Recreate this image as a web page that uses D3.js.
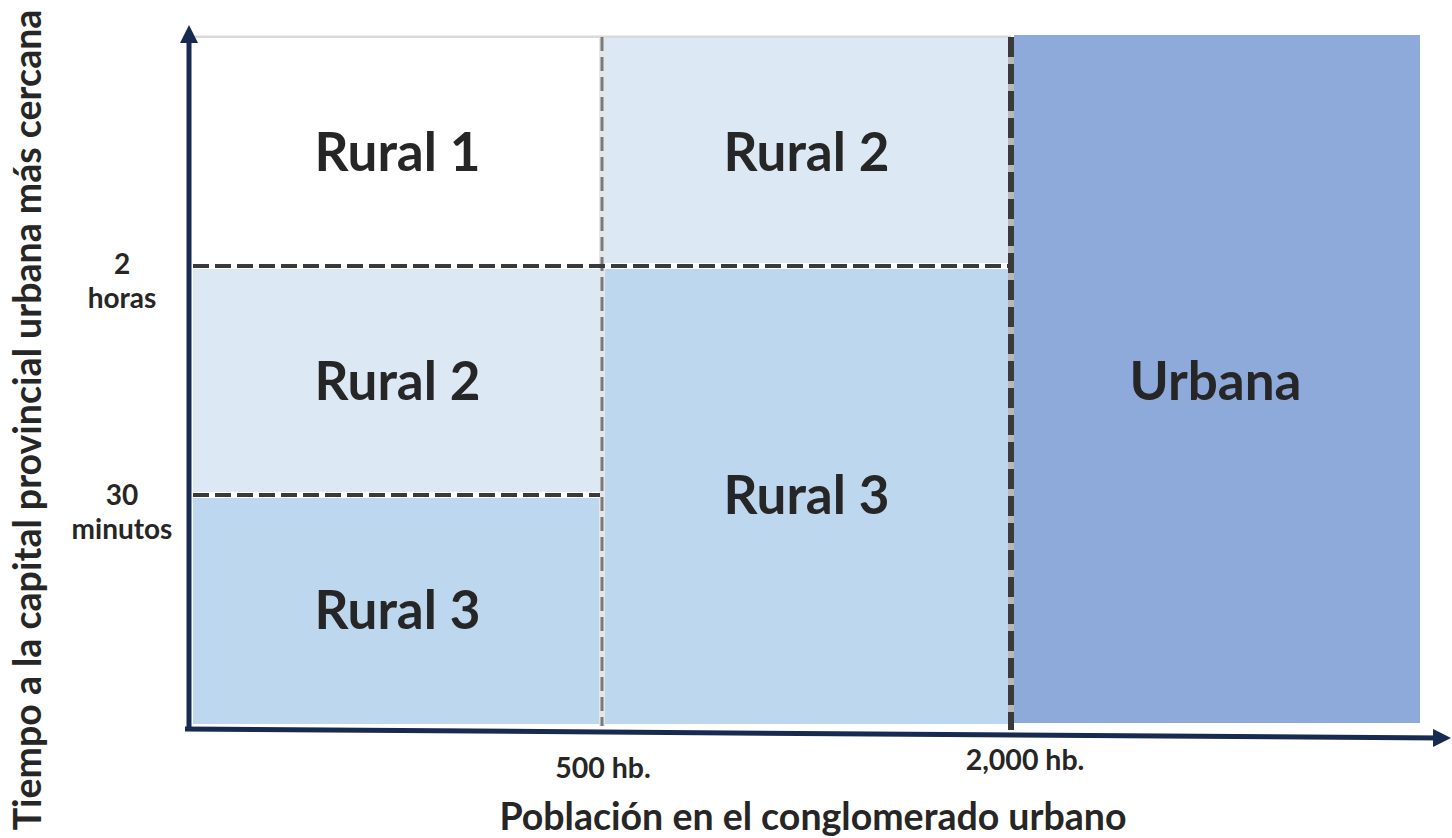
<!DOCTYPE html>
<html><head><meta charset="utf-8">
<script src="https://cdn.jsdelivr.net/npm/d3@7"></script>
<style>body{margin:0;background:#fff}svg{display:block}text{font-family:Lato,"Open Sans",sans-serif;font-weight:bold}</style>
</head><body><svg id="c" width="1452" height="838"></svg>
<script>
// Data
const xTickLabels = ["500 hb.", "2,000 hb."];   // population thresholds (band boundaries 1 and 2)
const yTickLabels = [["30", "minutos"], ["2", "horas"]]; // time thresholds (band boundaries 1 and 2)
const zoneNames = ["Rural 1", "Rural 2", "Rural 2", "Rural 3", "Rural 3", "Urbana"];
const zoneX0 = [0, 1, 0, 0, 1, 2];
const zoneX1 = [1, 2, 1, 1, 2, 3];
const zoneY0 = [2, 2, 1, 0, 0, 0];
const zoneY1 = [3, 3, 2, 1, 2, 3];
const classes = ["Rural 1", "Rural 2", "Rural 3", "Urbana"];

const svg = d3.select("#c");
const x = d3.scaleLinear().domain([0, 3]).range([193, 1420]);
const y = d3.scaleLinear().domain([0, 3]).range([724, 37]);
const color = d3.scaleOrdinal().domain(classes).range(["#ffffff", "#dde8f5", "#bdd7ee", "#8eaadb"]);

const zones = zoneNames.map((n, i) => ({name: n, x0: zoneX0[i], x1: zoneX1[i], y0: zoneY0[i], y1: zoneY1[i]}));

// top light border
svg.append("line").attr("x1", x(0)).attr("x2", x(2)).attr("y1", y(3)).attr("y2", y(3))
  .attr("stroke", "#d9d9d9").attr("stroke-width", 3);

svg.append("g").selectAll("rect").data(zones).join("rect")
  .attr("x", d => x(d.x0) + (d.x0 === 0 ? 0 : 3))
  .attr("width", d => x(d.x1) - x(d.x0) - (d.x0 === 0 ? 3 : 6) + (d.x1 === 3 ? 3 : 0))
  .attr("y", d => y(d.y1) + (d.y1 === 3 ? (d.x0 === 2 ? -2 : 1) : 3))
  .attr("height", d => y(d.y0) - y(d.y1) - (d.y1 === 3 ? 1 : 3) - (d.y0 === 0 ? 0 : 3) + (d.x0 === 2 ? 2 : 0))
  .attr("fill", d => color(d.name));

// dashed boundaries
svg.append("line").attr("x1", x(1)).attr("x2", x(1)).attr("y1", y(3)).attr("y2", y(0) + 2)
  .attr("stroke", "#e6e6e6").attr("stroke-width", 6);
svg.append("line").attr("x1", x(1)).attr("x2", x(1)).attr("y1", y(3)).attr("y2", y(0) + 2)
  .attr("stroke", "#7a7a7a").attr("stroke-width", 3).attr("stroke-dasharray", "14,6");
svg.append("line").attr("x1", x(2)).attr("x2", x(2)).attr("y1", y(3)).attr("y2", y(0) + 6)
  .attr("stroke", "#b8b8b8").attr("stroke-width", 6);
svg.append("line").attr("x1", x(2)).attr("x2", x(2)).attr("y1", y(3)).attr("y2", y(0) + 6)
  .attr("stroke", "#3a3a3a").attr("stroke-width", 6).attr("stroke-dasharray", "20,7");
svg.append("line").attr("x1", x(0)).attr("x2", x(2) - 3).attr("y1", y(2)).attr("y2", y(2))
  .attr("stroke", "#3a3a3a").attr("stroke-width", 4).attr("stroke-dasharray", "16,6");
svg.append("line").attr("x1", x(0)).attr("x2", x(1) - 2).attr("y1", y(1)).attr("y2", y(1))
  .attr("stroke", "#3a3a3a").attr("stroke-width", 4).attr("stroke-dasharray", "16,6");

// zone labels
svg.append("g").selectAll("text").data(zones).join("text")
  .attr("x", d => (x(d.x0) + x(d.x1)) / 2)
  .attr("y", d => (y(d.y0) + y(d.y1)) / 2 + 19)
  .attr("text-anchor", "middle").attr("font-size", 53).attr("fill", "#262626")
  .text(d => d.name);

// axes
const navy = "#172a4f";
svg.append("defs").append("marker").attr("id", "ar").attr("viewBox", "0 0 10 10")
  .attr("refX", 5).attr("refY", 5).attr("markerWidth", 3.6).attr("markerHeight", 3.6)
  .attr("orient", "auto").append("path").attr("d", "M0,0L10,5L0,10Z").attr("fill", navy);
svg.append("line").attr("x1", 189).attr("y1", y(0) + 6).attr("x2", 189).attr("y2", 34)
  .attr("stroke", navy).attr("stroke-width", 5).attr("marker-end", "url(#ar)");
svg.append("line").attr("x1", 185).attr("y1", y(0) + 5).attr("x2", 1442).attr("y2", y(0) + 14)
  .attr("stroke", navy).attr("stroke-width", 5).attr("marker-end", "url(#ar)");

// tick labels
svg.append("g").selectAll("text").data(xTickLabels).join("text")
  .attr("x", (d, i) => x(i + 1) + (i === 0 ? 1 : 14))
  .attr("y", (d, i) => 778 - i * 8)
  .attr("text-anchor", "middle").attr("font-size", 28.5).attr("fill", "#262626").text(d => d);
const yt = svg.append("g").selectAll("text").data(yTickLabels).join("text")
  .attr("text-anchor", "middle").attr("font-size", 28).attr("fill", "#262626");
yt.append("tspan").attr("x", 122).attr("y", (d, i) => y(i + 1) + 10 - i * 2).text(d => d[0]);
yt.append("tspan").attr("x", 122).attr("y", (d, i) => y(i + 1) + 44 - i * 2).text(d => d[1]);

// axis titles
svg.append("text").attr("x", 813).attr("y", 830).attr("text-anchor", "middle")
  .attr("font-size", 37.5).attr("fill", "#262626").text("Población en el conglomerado urbano");
svg.append("text").attr("transform", "translate(41,420) rotate(-90)").attr("text-anchor", "middle")
  .attr("font-size", 37.5).attr("fill", "#262626").text("Tiempo a la capital provincial urbana más cercana");
</script></body></html>
